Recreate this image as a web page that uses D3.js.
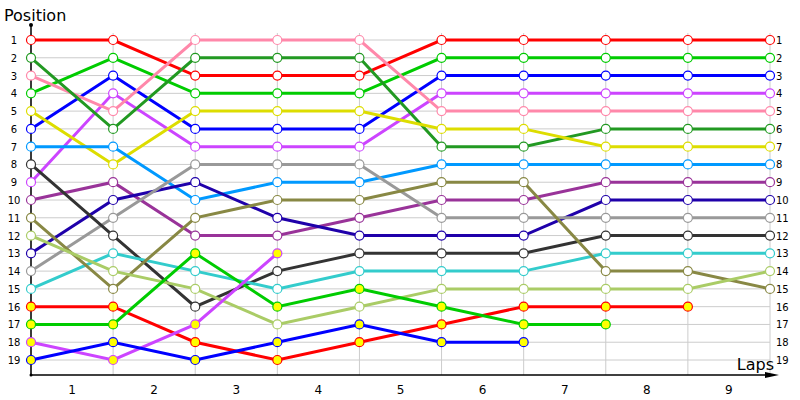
<!DOCTYPE html>
<html>
<head>
<meta charset="utf-8">
<script src="https://cdn.jsdelivr.net/npm/d3@7"></script>
<style>
  body { margin: 0; background: #fff; }
  text { font-family: "DejaVu Sans", sans-serif; }
</style>
</head>
<body>
<div id="chart"></div>
<script>
// laps 0..9 on the x axis, position per lap (null = retired)
var laps = [0, 1, 2, 3, 4, 5, 6, 7, 8, 9];
var lapLabels = ["1", "2", "3", "4", "5", "6", "7", "8", "9"];
var positions = d3.range(1, 20);

var names = ["red", "green", "blue", "violet", "pink", "darkgreen", "yellow", "lightblue",
    "purple", "navy", "gray", "darkgray", "cyan", "olive", "yellowgreen",
    "red2", "green2", "violet2", "blue2"];
var colors = ["#ff0000", "#00cc00", "#0000ff", "#cc44ff", "#ff88aa", "#229922", "#dddd00", "#0099ff",
    "#993399", "#1f00aa", "#999999", "#333333", "#33cccc", "#888844", "#aacc66",
    "#ff0000", "#00cc00", "#cc44ff", "#0000ff"];
var lapped = [false, false, false, false, false, false, false, false,
    false, false, false, false, false, false, false,
    true, true, true, true];

var red = [1, 1, 3, 3, 3, 1, 1, 1, 1, 1];
var green = [4, 2, 4, 4, 4, 2, 2, 2, 2, 2];
var blue = [6, 3, 6, 6, 6, 3, 3, 3, 3, 3];
var violet = [9, 4, 7, 7, 7, 4, 4, 4, 4, 4];
var pink = [3, 5, 1, 1, 1, 5, 5, 5, 5, 5];
var darkgreen = [2, 6, 2, 2, 2, 7, 7, 6, 6, 6];
var yellow = [5, 8, 5, 5, 5, 6, 6, 7, 7, 7];
var lightblue = [7, 7, 10, 9, 9, 8, 8, 8, 8, 8];
var purple = [10, 9, 12, 12, 11, 10, 10, 9, 9, 9];
var navy = [13, 10, 9, 11, 12, 12, 12, 10, 10, 10];
var gray = [14, 11, 8, 8, 8, 11, 11, 11, 11, 11];
var darkgray = [8, 12, 16, 14, 13, 13, 13, 12, 12, 12];
var cyan = [15, 13, 14, 15, 14, 14, 14, 13, 13, 13];
var olive = [11, 15, 11, 10, 10, 9, 9, 14, 14, 15];
var yellowgreen = [12, 14, 15, 17, 16, 15, 15, 15, 15, 14];
var red2 = [16, 16, 18, 19, 18, 17, 16, 16, 16];
var green2 = [17, 17, 13, 16, 15, 16, 17, 17];
var violet2 = [18, 19, 17, 13];
var blue2 = [19, 18, 19, 18, 17, 18, 18];

var seriesValues = [red, green, blue, violet, pink, darkgreen, yellow, lightblue,
    purple, navy, gray, darkgray, cyan, olive, yellowgreen,
    red2, green2, violet2, blue2];

var width = 800, height = 400;

var svg = d3.select("#chart").append("svg")
    .attr("width", width)
    .attr("height", height);

var x = d3.scaleLinear().domain([0, 9]).range([31, 770]);
var y = d3.scaleLinear().domain([1, 19]).range([40, 360]);

// grid
var grid = svg.append("g").attr("class", "grid");
grid.selectAll("line.h")
    .data(positions)
    .enter().append("line")
    .attr("class", "h")
    .attr("x1", x(0)).attr("x2", x(9))
    .attr("y1", function(d) { return y(d); })
    .attr("y2", function(d) { return y(d); })
    .style("stroke", "#cccccc");
grid.selectAll("line.v")
    .data(laps)
    .enter().append("line")
    .attr("class", "v")
    .attr("x1", function(d) { return x(d); })
    .attr("x2", function(d) { return x(d); })
    .attr("y1", 33).attr("y2", 375)
    .style("stroke", "#cccccc");

// position labels, both sides
svg.selectAll("text.yl")
    .data(positions)
    .enter().append("text")
    .attr("class", "yl")
    .attr("x", 14)
    .attr("y", function(d) { return y(d) + 4; })
    .attr("text-anchor", "middle")
    .style("font-size", "10px")
    .text(function(d) { return d; });
svg.selectAll("text.yr")
    .data(positions)
    .enter().append("text")
    .attr("class", "yr")
    .attr("x", 776)
    .attr("y", function(d) { return y(d) + 4; })
    .style("font-size", "10px")
    .text(function(d) { return d; });

// lap labels, centred between gridlines
svg.selectAll("text.xl")
    .data(lapLabels)
    .enter().append("text")
    .attr("class", "xl")
    .attr("x", function(d, i) { return (x(i) + x(i + 1)) / 2; })
    .attr("y", 394)
    .attr("text-anchor", "middle")
    .style("font-size", "12px")
    .text(function(d) { return d; });

// axes
svg.append("line")
    .attr("x1", x(0)).attr("x2", x(0))
    .attr("y1", 25).attr("y2", 375)
    .style("stroke", "#000").style("stroke-width", 1.5);
svg.append("circle").attr("cx", x(0)).attr("cy", 25).attr("r", 2).style("fill", "#000");
svg.append("circle").attr("cx", x(0)).attr("cy", 375).attr("r", 1.5).style("fill", "#000");
svg.append("line")
    .attr("x1", x(0)).attr("x2", 772)
    .attr("y1", 375).attr("y2", 375)
    .style("stroke", "#000").style("stroke-width", 1.5);
svg.append("path")
    .attr("d", "M765,372 L779,375 L765,378 Z")
    .style("fill", "#000");

svg.append("text")
    .attr("x", 4).attr("y", 21)
    .style("font-size", "16px")
    .text("Position");
svg.append("text")
    .attr("x", 774).attr("y", 370)
    .attr("text-anchor", "end")
    .style("font-size", "16px")
    .text("Laps");

// series
var line = d3.line()
    .x(function(d, i) { return x(i); })
    .y(function(d) { return y(d); });

var series = svg.selectAll("g.series")
    .data(seriesValues)
    .enter().append("g")
    .attr("class", "series");

series.append("path")
    .attr("d", line)
    .style("fill", "none")
    .style("stroke", function(d, i) { return colors[i]; })
    .style("stroke-width", 3);

series.each(function(vals, si) {
    d3.select(this).selectAll("circle")
        .data(vals)
        .enter().append("circle")
        .attr("cx", function(d, i) { return x(i); })
        .attr("cy", function(d) { return y(d); })
        .attr("r", 4.5)
        .style("fill", lapped[si] ? "#ffff00" : "#ffffff")
        .style("stroke", colors[si])
        .style("stroke-width", 1.2);
});
</script>
</body>
</html>
